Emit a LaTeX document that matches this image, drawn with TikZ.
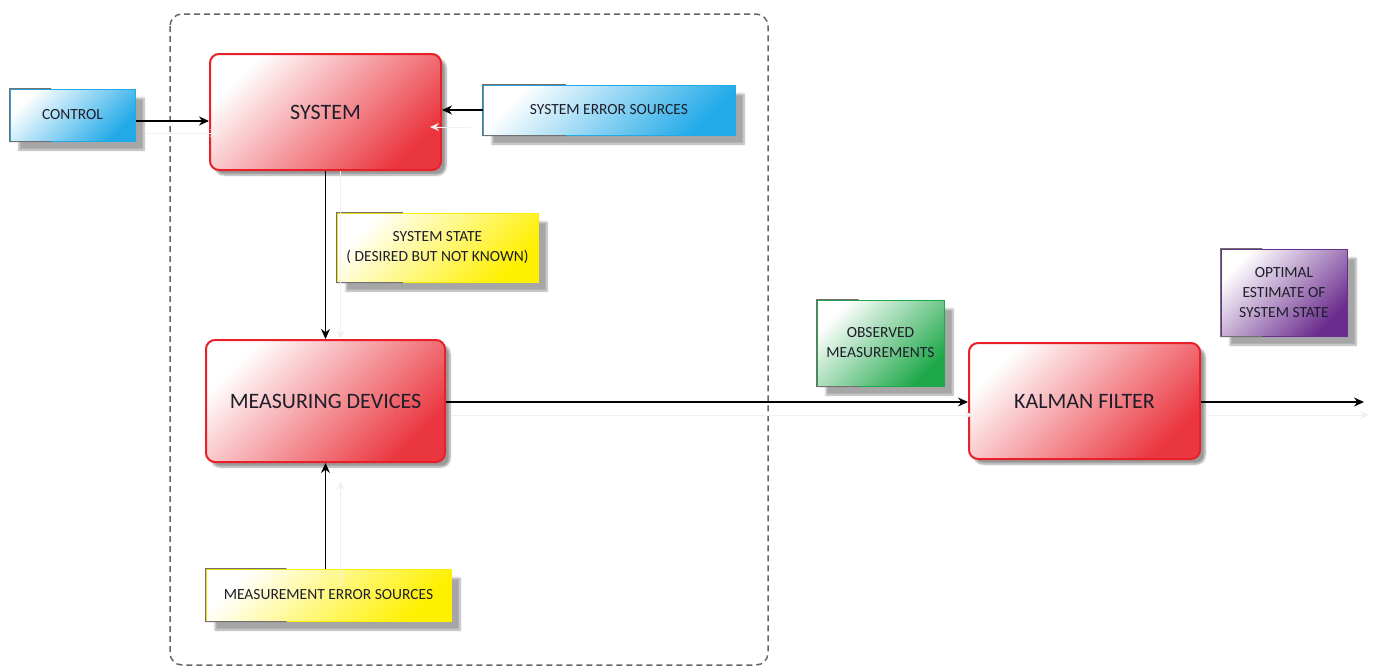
\documentclass[tikz,border=0pt]{standalone}
\usepackage{fontspec}
\setmainfont{Carlito}
\usetikzlibrary{shadows.blur,arrows.meta,calc}

\definecolor{boxred}{HTML}{E8202A}
\definecolor{boxblue}{HTML}{22AAE8}
\definecolor{boxyellow}{HTML}{FFF000}
\definecolor{boxgreen}{HTML}{1FA84A}
\definecolor{boxpurple}{HTML}{6A2C8E}
\definecolor{edgegray}{HTML}{707070}
\definecolor{txt}{HTML}{1E1E2A}

\tikzset{
  redbox/.style={draw=boxred, line width=2pt, rounded corners=9pt,
    top color=white, middle color=boxred!30, bottom color=boxred!90,
    shading angle=45, text=txt, font=\fontsize{22}{26}\selectfont,
    blur shadow={shadow xshift=5pt, shadow yshift=-5pt, shadow blur steps=6, shadow opacity=40}},
  notebox/.style={draw=#1, line width=1pt,
    top color=white, middle color=#1!40, bottom color=#1,
    shading angle=45, text=txt, align=center, inner sep=2pt,
    font=\fontsize{15.5}{20}\selectfont,
    blur shadow={shadow xshift=9pt, shadow yshift=-9pt, shadow blur steps=6, shadow opacity=35}},
  conn/.style={draw=black, line width=1.1pt, -{Stealth[length=10pt,width=9pt]}},
  ghostconn/.style={draw=black!6, line width=1pt, -{Stealth[length=9pt,width=8pt]}},
  frame/.style={draw=black!60, line width=1.5pt, dash pattern=on 6pt off 4pt, rounded corners=12pt}
}

% grey part of the outline on the left third of a note box
\newcommand{\leftedge}[1]{%
  \draw[edgegray, line width=1pt]
    ($(#1.north west)!0.33!(#1.north east)$) -- (#1.north west)
    -- (#1.south west) -- ($(#1.south west)!0.33!(#1.south east)$);}

\begin{document}
\begin{tikzpicture}[x=1pt,y=-1pt]
  \useasboundingbox (0,0) rectangle (1377,667);

  % enclosing dashed frame
  \draw[frame] (170,14) rectangle (768,665);

  % main blocks
  \node[redbox, minimum width=231pt, minimum height=116pt] (sys) at (325.5,112) {SYSTEM};
  \node[redbox, minimum width=239pt, minimum height=122pt] (meas) at (325.5,401) {MEASURING DEVICES};
  \node[redbox, minimum width=231pt, minimum height=116pt] (kal) at (1084.5,401) {KALMAN FILTER};

  % annotation boxes
  \node[notebox=boxblue, minimum width=125pt, minimum height=52pt] (ctl) at (72.5,115) {CONTROL};
  \node[notebox=boxblue, minimum width=252pt, minimum height=50pt] (sen) at (609,110) {SYSTEM ERROR SOURCES};
  \node[notebox=boxyellow, minimum width=201pt, minimum height=69pt] (sst) at (437.5,247.5)
    {SYSTEM STATE\\( DESIRED BUT NOT KNOWN)};
  \node[notebox=boxyellow, minimum width=245pt, minimum height=52pt] (men) at (328.5,595) {MEASUREMENT ERROR SOURCES};
  \node[notebox=boxgreen, minimum width=127pt, minimum height=86pt] (obs) at (880.5,343)
    {OBSERVED\\MEASUREMENTS};
  \node[notebox=boxpurple, minimum width=126pt, minimum height=87pt] (opt) at (1284,292.5)
    {OPTIMAL\\ESTIMATE OF\\SYSTEM STATE};

  \foreach \n in {ctl,sen,sst,men,obs,opt} {\leftedge{\n}}

  \coordinate (out) at (1364,402);

  % faint connector shadows
  \draw[ghostconn, transform canvas={shift={(10pt,-12pt)}}] (ctl.east |- 0,121) -- (sys.west |- 0,121);
  \draw[ghostconn, transform canvas={shift={(-12pt,-17pt)}}] (sen.west) -- (sys.east |- sen.west);
  \draw[ghostconn, transform canvas={shift={(15pt,0pt)}}] (sys.south) -- (meas.north);
  \draw[ghostconn, transform canvas={shift={(15pt,-18pt)}}] (men.north -| meas.south) -- (meas.south);
  \draw[ghostconn, transform canvas={shift={(5pt,-13pt)}}] (meas.east |- out) -- (kal.west |- out);
  \draw[ghostconn, transform canvas={shift={(5pt,-13pt)}}] (kal.east |- out) -- (out);

  % connectors
  \draw[conn] (ctl.east |- 0,121) -- (sys.west |- 0,121);
  \draw[conn] (sen.west) -- (sys.east |- sen.west);
  \draw[conn] (sys.south) -- (meas.north);
  \draw[conn] (men.north -| meas.south) -- (meas.south);
  \draw[conn] (meas.east |- out) -- (kal.west |- out);
  \draw[conn] (kal.east |- out) -- (out);
\end{tikzpicture}
\end{document}
